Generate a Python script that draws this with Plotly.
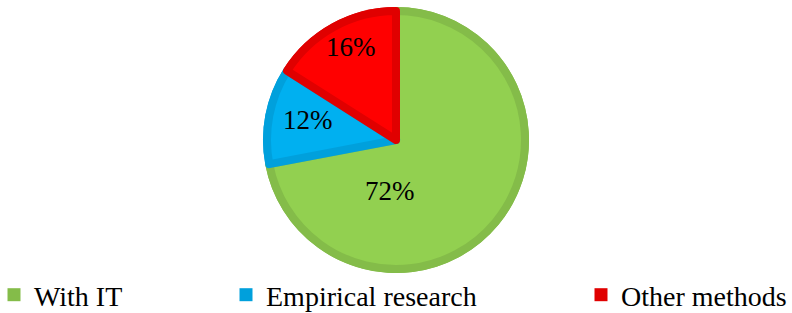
import plotly.graph_objects as go

# ---- data ----
categories = ["With IT", "Empirical research", "Other methods"]
values = [72, 12, 16]
fill_colors = ["#92D050", "#00B0F0", "#FF0000"]
edge_colors = ["#84BC49", "#00A0DC", "#E00000"]

# ---- layout geometry ----
W, H = 792, 313
cx, cy, R = 396, 140, 133
border = 8
FONT = "Liberation Serif"


def dom(r):
    return dict(x=[(cx - r) / W, (cx + r) / W], y=[(H - cy - r) / H, (H - cy + r) / H])


fig = go.Figure()

# dark base pie (acts as the inner border)
fig.add_trace(go.Pie(
    labels=categories, values=values, sort=False, direction="clockwise", rotation=0,
    marker=dict(colors=edge_colors, line=dict(width=0)),
    textinfo="none", hoverinfo="skip", showlegend=False, domain=dom(R),
))
# lighter fill pie
fig.add_trace(go.Pie(
    labels=categories, values=values, sort=False, direction="clockwise", rotation=0,
    marker=dict(colors=fill_colors, line=dict(color=edge_colors, width=border)),
    textinfo="none", hoverinfo="label+percent", showlegend=False, domain=dom(R - border / 2),
))

# legend entries (one legend per entry so they can be spaced like the original)
legend_names = ["legend", "legend2", "legend3"]
for name, col, lg in zip(categories, edge_colors, legend_names):
    fig.add_trace(go.Scatter(
        x=[None], y=[None], mode="markers", name=name, legend=lg,
        marker=dict(symbol="square", size=13, color=col),
    ))

# percentage labels
total = sum(values)
label_pos = [(389.5, 191), (307.5, 120), (350.5, 47)]
annotations = []
for v, (px, py) in zip(values, label_pos):
    annotations.append(dict(
        x=px / W, y=1 - py / H, xref="paper", yref="paper",
        text=f"{v / total * 100:.0f}%", showarrow=False,
        xanchor="center", yanchor="middle",
        font=dict(family=FONT, size=27, color="black"),
    ))

leg_sym_x = [14, 246, 601]
leg_common = dict(
    yanchor="middle", xanchor="left", y=(H - 295) / H,
    bgcolor="rgba(0,0,0,0)", borderwidth=0,
    font=dict(family=FONT, size=28, color="black"),
)

fig.update_layout(
    width=W, height=H,
    margin=dict(l=0, r=0, t=0, b=0, autoexpand=False),
    paper_bgcolor="white", plot_bgcolor="white",
    xaxis=dict(visible=False), yaxis=dict(visible=False),
    annotations=annotations,
    legend=dict(x=(leg_sym_x[0] - 20) / W, **leg_common),
    legend2=dict(x=(leg_sym_x[1] - 20) / W, **leg_common),
    legend3=dict(x=(leg_sym_x[2] - 20) / W, **leg_common),
)

fig.write_html("out.html", config={"displayModeBar": False},
               post_script="document.body.style.margin='0';")
